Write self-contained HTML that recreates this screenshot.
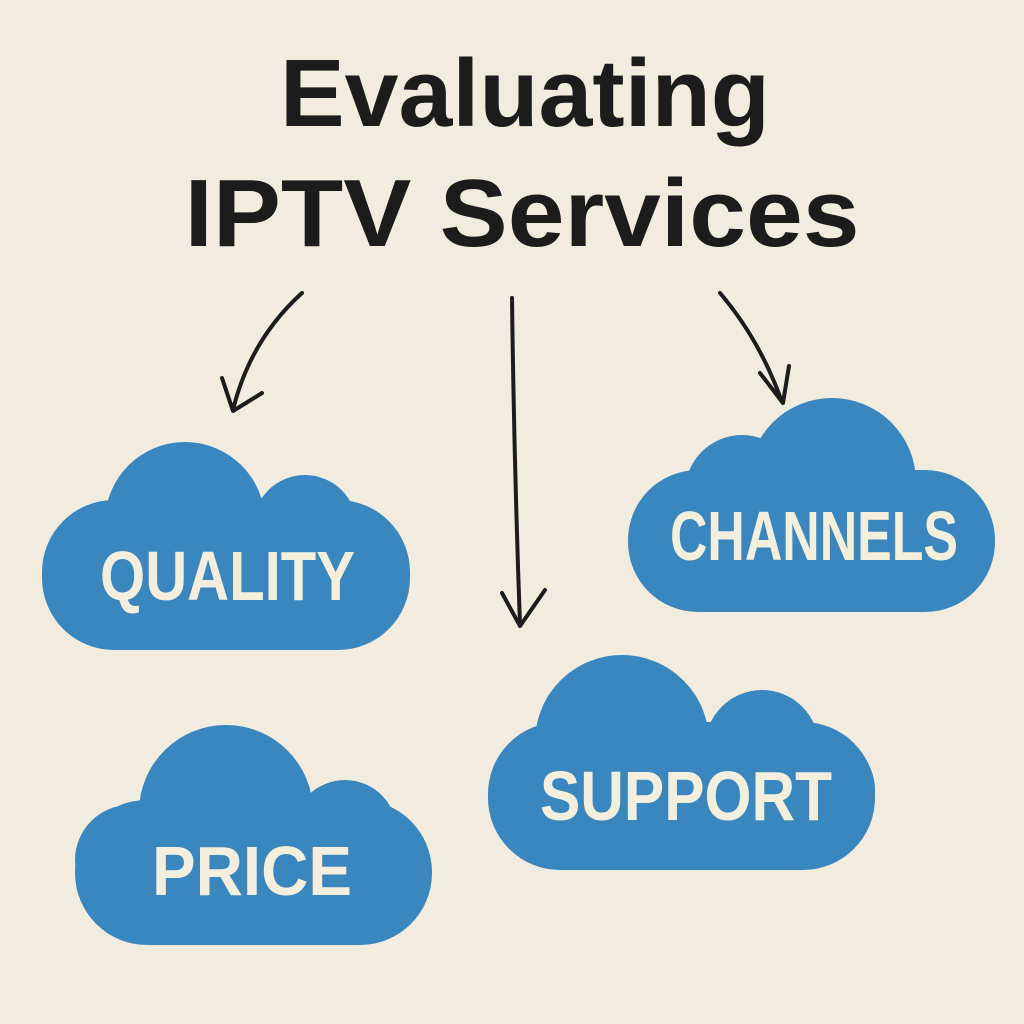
<!DOCTYPE html>
<html><head><meta charset="utf-8"><style>
html,body{margin:0;padding:0;background:#f2ecdf;}
svg{display:block}
</style></head><body>
<svg width="1024" height="1024" viewBox="0 0 1024 1024" xmlns="http://www.w3.org/2000/svg">
<rect width="1024" height="1024" fill="#f2ecdf"/>
<g font-family="Liberation Sans, sans-serif" font-weight="bold" fill="#1c1c1c">
<text x="525" y="126" font-size="96" text-anchor="middle" textLength="490" lengthAdjust="spacingAndGlyphs">Evaluating</text>
<text x="522" y="246" font-size="96" text-anchor="middle" textLength="675" lengthAdjust="spacingAndGlyphs">IPTV Services</text>
</g>
<g fill="none" stroke="#1c1c1c" stroke-width="4" stroke-linecap="round" stroke-linejoin="round">
<path d="M302 293 Q250 340 233 410"/>
<path d="M222 378 L233 411 L262 393"/>
<path d="M512 298 Q514 460 520 625"/>
<path d="M502 593 L520 626 L545 590"/>
<path d="M720 293 Q760 340 782 402"/>
<path d="M760 373 L783 403 L789 366"/>
</g>
<g fill="#3a87bf">
<rect x="42" y="500" width="368" height="150" rx="72"/>
<circle cx="185" cy="522" r="80"/><circle cx="305" cy="527" r="52"/><circle cx="100" cy="560" r="50"/>
<rect x="628" y="470" width="367" height="142" rx="70"/>
<circle cx="832" cy="482" r="84"/><circle cx="742" cy="492" r="57"/><circle cx="940" cy="530" r="50"/>
<rect x="488" y="722" width="387" height="148" rx="72"/>
<circle cx="622" cy="742" r="87"/><circle cx="762" cy="747" r="57"/><circle cx="820" cy="790" r="55"/>
<rect x="75" y="800" width="357" height="145" rx="72"/>
<circle cx="226" cy="812" r="87"/><circle cx="345" cy="832" r="52"/><circle cx="130" cy="860" r="55"/>
</g>
<g font-family="Liberation Sans, sans-serif" font-weight="bold" fill="#f4efdc" font-size="70">
<text x="100" y="600" textLength="255" lengthAdjust="spacingAndGlyphs">QUALITY</text>
<text x="670" y="560" textLength="288" lengthAdjust="spacingAndGlyphs">CHANNELS</text>
<text x="540" y="820" textLength="292" lengthAdjust="spacingAndGlyphs">SUPPORT</text>
<text x="152" y="895" textLength="200" lengthAdjust="spacingAndGlyphs">PRICE</text>
</g>
</svg>
</body></html>
